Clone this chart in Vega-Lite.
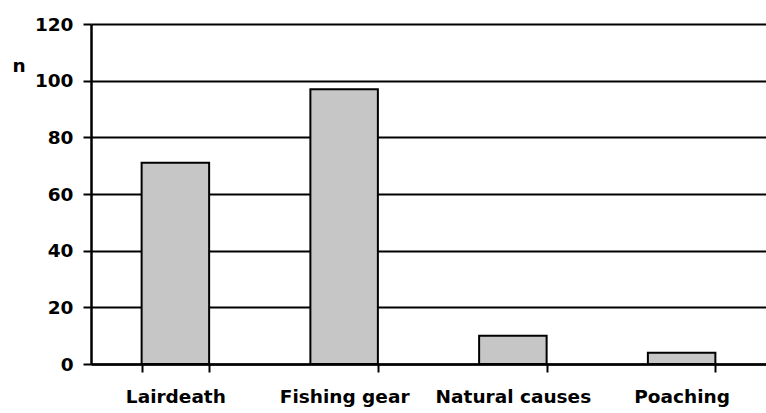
{
  "$schema": "https://vega.github.io/schema/vega-lite/v6.json",
  "width": 675,
  "height": 340,
  "autosize": {"type": "none"},
  "padding": {"left": 91, "top": 24, "right": 0, "bottom": 49},
  "background": "white",
  "config": {"view": {"stroke": null}, "font": "DejaVu Sans"},
  "data": {"values": [
    {"cause": "Lairdeath", "n": 71},
    {"cause": "Fishing gear", "n": 97},
    {"cause": "Natural causes", "n": 10},
    {"cause": "Poaching", "n": 4}
  ]},
  "mark": {"type": "bar", "fill": "#c6c6c6", "stroke": "black", "strokeWidth": 2},
  "encoding": {
    "x": {
      "field": "cause", "type": "nominal", "sort": null,
      "scale": {"paddingInner": 0.6, "paddingOuter": 0.3},
      "axis": {
        "title": null, "labelAngle": 0, "labelFont": "DejaVu Sans", "labelFontSize": 18.5,
        "labelFontWeight": "bold", "labelColor": "black", "labelPadding": 15,
        "tickBand": "extent", "tickSize": 8, "tickColor": "black", "tickWidth": 2,
        "domainColor": "black", "domainWidth": 2.5, "grid": false
      }
    },
    "y": {
      "field": "n", "type": "quantitative",
      "scale": {"domain": [0, 120], "nice": false},
      "axis": {
        "values": [0, 20, 40, 60, 80, 100, 120],
        "title": "n", "titleAngle": 0, "titleX": -79, "titleY": 47, "titleAlign": "left",
        "titleBaseline": "alphabetic", "titleFont": "DejaVu Sans", "titleFontSize": 18.5,
        "titleFontWeight": "bold", "titleColor": "black",
        "labelFont": "DejaVu Sans", "labelFontSize": 18.5, "labelFontWeight": "bold",
        "labelColor": "black", "labelPadding": 10,
        "tickSize": 8, "tickColor": "black", "tickWidth": 2,
        "domainColor": "black", "domainWidth": 2.5,
        "grid": true, "gridColor": "black", "gridWidth": 2, "gridOpacity": 1
      }
    }
  }
}
